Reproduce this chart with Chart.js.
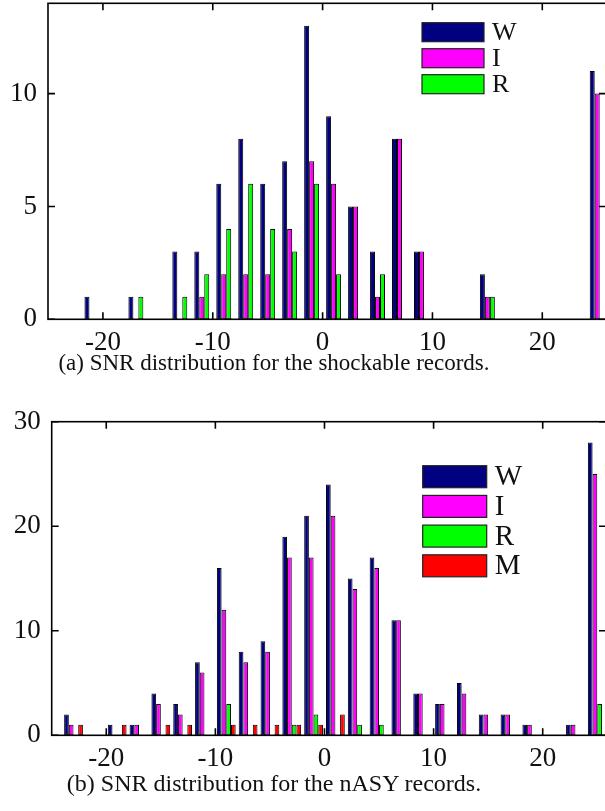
<!DOCTYPE html>
<html lang="en">
<head>
    <meta charset="UTF-8">
    <title>SNR distribution</title>
    <script src="https://cdn.jsdelivr.net/npm/chart.js"></script>
    <style>
        body {
            margin: 0;
            padding: 0;
            width: 605px;
            height: 811px;
            overflow: hidden;
            background-color: #ffffff;
            position: relative;
            font-family: "Liberation Serif", "Times New Roman", serif;
        }
        .chart-box {
            position: absolute;
            left: 0;
        }
        .caption {
            position: absolute;
            left: 0;
            width: 548px;
            text-align: center;
            font-size: 23px;
            line-height: 24px;
            color: #111;
            white-space: nowrap;
        }
    </style>
</head>
<body>
    <div class="chart-box" style="top:-30px">
        <canvas id="shockChart" width="620" height="410"></canvas>
    </div>
    <div class="caption" style="top:351px">(a) SNR distribution for the shockable records.</div>

    <div class="chart-box" style="top:390px">
        <canvas id="nasyChart" width="620" height="405"></canvas>
    </div>
    <div class="caption" style="top:771px; font-size:24px">(b) SNR distribution for the nASY records.</div>

    <script>
        // bin centres (dB), shared by both panels
        const snrBins = [-25, -23, -21, -19, -17, -15, -13, -11, -9, -7, -5, -3, -1,
                          1, 3, 5, 7, 9, 11, 13, 15, 17, 19, 21, 23, 25];

        // (a) shockable records
        const shockW = [0, 0, 1, 0, 1, 0, 3, 3, 6, 8, 6, 7, 13, 9, 5, 3, 8, 3, 0, 0, 2, 0, 0, 0, 0, 11];
        const shockI = [0, 0, 0, 0, 0, 0, 0, 1, 2, 2, 2, 4, 7, 6, 5, 1, 8, 3, 0, 0, 1, 0, 0, 0, 0, 10];
        const shockR = [0, 0, 0, 0, 1, 0, 1, 2, 4, 6, 4, 3, 6, 2, 0, 2, 0, 0, 0, 0, 1, 0, 0, 0, 0, 0];

        // (b) nASY records
        const nasyW = [0, 2, 0, 1, 1, 4, 3, 7, 16, 8, 9, 19, 21, 24, 15, 17, 11, 4, 3, 5, 2, 2, 1, 0, 1, 28];
        const nasyI = [0, 1, 0, 0, 1, 3, 2, 6, 12, 7, 8, 17, 17, 21, 14, 16, 11, 4, 3, 4, 2, 2, 1, 0, 1, 25];
        const nasyR = [0, 0, 0, 0, 0, 0, 0, 0, 3, 0, 0, 1, 2, 0, 1, 1, 0, 0, 0, 0, 0, 0, 0, 0, 0, 3];
        const nasyM = [0, 1, 0, 1, 0, 1, 1, 0, 1, 1, 1, 1, 1, 2, 0, 0, 0, 0, 0, 0, 0, 0, 0, 0, 0, 0];

        const xTicks = [-20, -10, 0, 10, 20];
        const shockYTicks = [0, 5, 10];
        const nasyYTicks = [0, 10, 20, 30];

        const colW = '#000080';
        const colI = '#ff00ff';
        const colR = '#00ff00';
        const colM = '#ff0000';

        const serif = '"Liberation Serif", "Times New Roman", serif';

        // box round the plot with inward ticks on all four sides (matlab look)
        const frameTicks = {
            id: 'frameTicks',
            afterDatasetsDraw(chart) {
                const ctx = chart.ctx;
                const a = chart.chartArea;
                const x = chart.scales.x;
                const y = chart.scales.y;
                const len = 7;
                ctx.save();
                ctx.strokeStyle = '#000';
                ctx.lineWidth = 1.6;
                ctx.strokeRect(a.left, a.top, a.right - a.left, a.bottom - a.top);
                ctx.beginPath();
                x.ticks.forEach(t => {
                    const px = x.getPixelForValue(t.value);
                    ctx.moveTo(px, a.bottom);
                    ctx.lineTo(px, a.bottom - len);
                    ctx.moveTo(px, a.top);
                    ctx.lineTo(px, a.top + len);
                });
                y.ticks.forEach(t => {
                    const py = y.getPixelForValue(t.value);
                    ctx.moveTo(a.left, py);
                    ctx.lineTo(a.left + len, py);
                    ctx.moveTo(a.right, py);
                    ctx.lineTo(a.right - len, py);
                });
                ctx.stroke();
                ctx.restore();
            }
        };

        // legend drawn inside the plot area, boxes + letters
        const boxLegend = {
            id: 'boxLegend',
            afterDraw(chart, args, opts) {
                const ctx = chart.ctx;
                const a = chart.chartArea;
                const left = a.left + opts.dx;
                let top = a.top + opts.dy;
                ctx.save();
                ctx.font = opts.fontSize + 'px ' + serif;
                ctx.textBaseline = 'middle';
                ctx.textAlign = 'left';
                chart.data.datasets.forEach(ds => {
                    ctx.fillStyle = ds.backgroundColor;
                    ctx.fillRect(left, top, opts.w, opts.h);
                    ctx.strokeStyle = '#222';
                    ctx.lineWidth = 1.2;
                    ctx.strokeRect(left, top, opts.w, opts.h);
                    ctx.fillStyle = '#111';
                    ctx.fillText(ds.label, left + opts.w + 8, top + opts.h / 2 + 1);
                    top += opts.pitch;
                });
                ctx.restore();
            }
        };

        function makeSet(label, values, color) {
            return {
                label: label,
                data: values,
                backgroundColor: color,
                borderColor: '#000',
                borderWidth: 1,
                borderSkipped: false
            };
        }

        function makeChart(id, datasets, cfg) {
            const ctx = document.getElementById(id).getContext('2d');
            return new Chart(ctx, {
                type: 'bar',
                data: {
                    labels: snrBins,
                    datasets: datasets
                },
                options: {
                    responsive: false,
                    animation: false,
                    events: [],
                    layout: {
                        padding: { top: cfg.padTop, right: 14, left: 0, bottom: 0 }
                    },
                    datasets: {
                        bar: {
                            categoryPercentage: cfg.groupWidth,
                            barPercentage: 1
                        }
                    },
                    scales: {
                        x: {
                            type: 'linear',
                            min: -25,
                            max: 25.8,
                            offset: false,
                            grid: { display: false, drawTicks: false, offset: false },
                            border: { display: false },
                            afterBuildTicks: scale => {
                                scale.ticks = xTicks.map(v => ({ value: v }));
                            },
                            afterFit: scale => {
                                scale.height = cfg.xHeight;
                            },
                            ticks: {
                                color: '#111',
                                padding: 7,
                                maxRotation: 0,
                                font: { family: serif, size: 27 },
                                callback: v => String(v)
                            }
                        },
                        y: {
                            min: 0,
                            max: cfg.yMax,
                            grid: { display: false, drawTicks: false },
                            border: { display: false },
                            afterBuildTicks: scale => {
                                scale.ticks = cfg.yTicks.map(v => ({ value: v }));
                            },
                            afterFit: scale => {
                                scale.width = cfg.yWidth;
                            },
                            ticks: {
                                color: '#111',
                                padding: 11,
                                font: { family: serif, size: 27 },
                                callback: v => String(v)
                            }
                        }
                    },
                    plugins: {
                        legend: { display: false },
                        tooltip: { enabled: false },
                        boxLegend: cfg.legend
                    }
                },
                plugins: [frameTicks, boxLegend]
            });
        }

        makeChart('shockChart', [
            makeSet('W', shockW, colW),
            makeSet('I', shockI, colI),
            makeSet('R', shockR, colR)
        ], {
            padTop: 33.3,
            xHeight: 60.7,
            yWidth: 48,
            yMax: 14,
            yTicks: shockYTicks,
            groupWidth: 0.68,
            legend: { dx: 374, dy: 19.4, w: 62, h: 19, pitch: 26, fontSize: 26 }
        });

        makeChart('nasyChart', [
            makeSet('W', nasyW, colW),
            makeSet('I', nasyI, colI),
            makeSet('R', nasyR, colR),
            makeSet('M', nasyM, colM)
        ], {
            padTop: 31.7,
            xHeight: 59.7,
            yWidth: 51.7,
            yMax: 30,
            yTicks: nasyYTicks,
            groupWidth: 0.86,
            legend: { dx: 371, dy: 44, w: 64, h: 22, pitch: 29.7, fontSize: 29 }
        });
    </script>
</body>
</html>
